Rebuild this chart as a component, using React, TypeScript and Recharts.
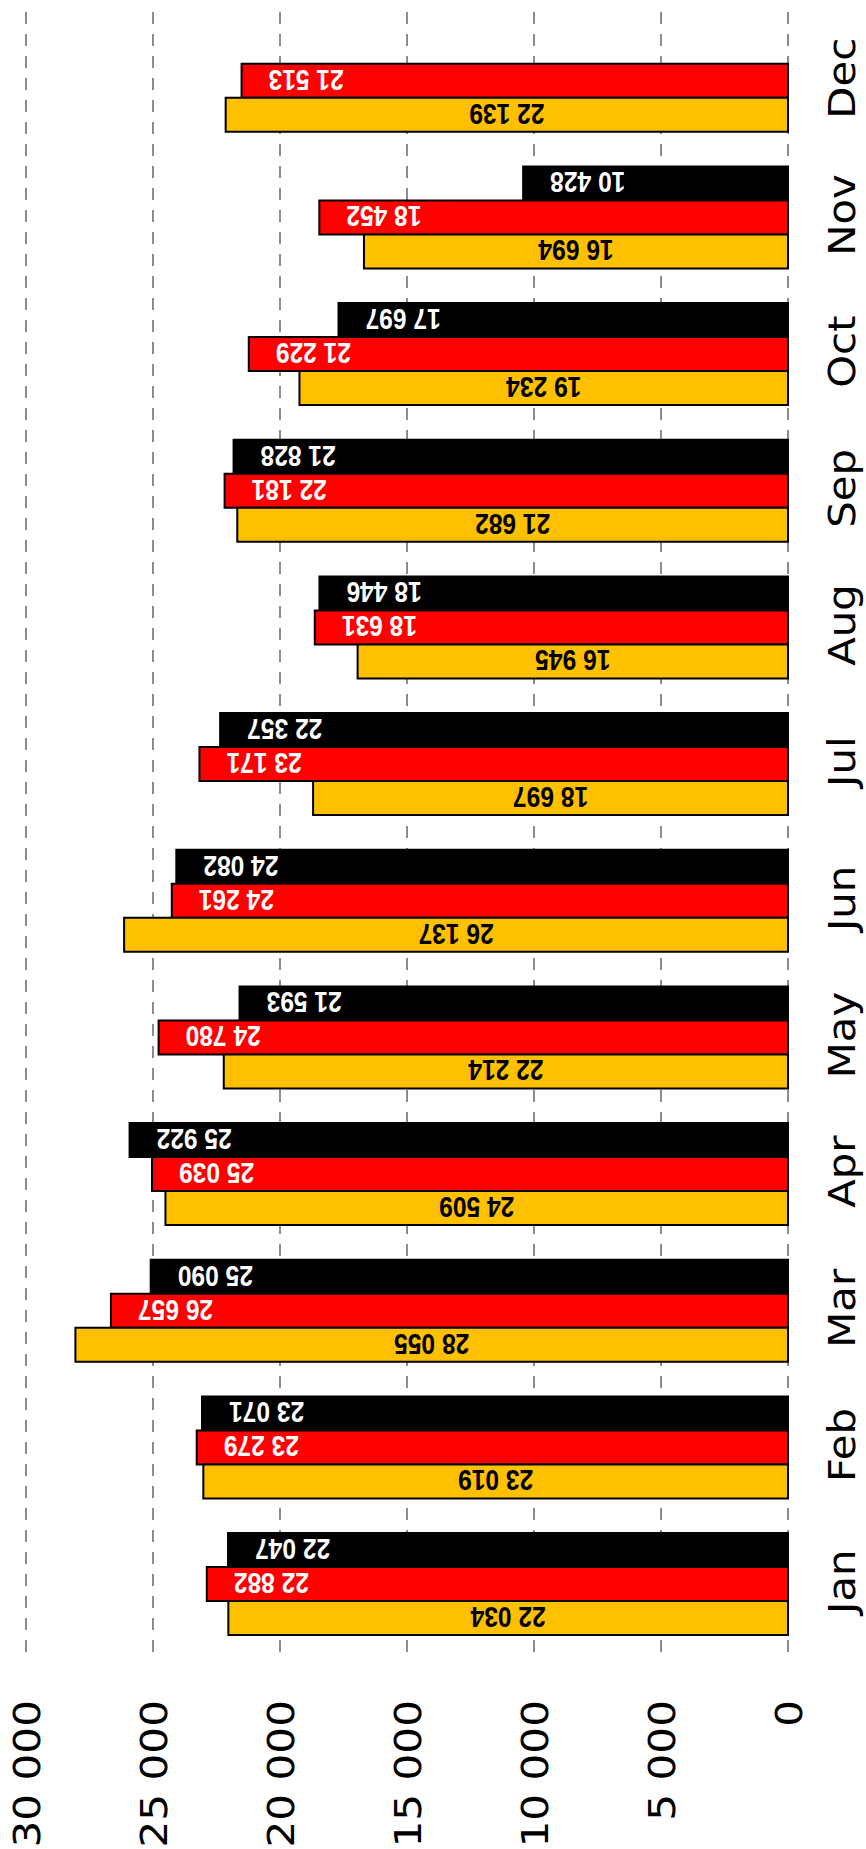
import { BarChart, Bar, XAxis, YAxis, CartesianGrid, LabelList } from 'recharts';

const MONTHS = ['Jan', 'Feb', 'Mar', 'Apr', 'May', 'Jun', 'Jul', 'Aug', 'Sep', 'Oct', 'Nov', 'Dec'];
const YELLOW_VALUES = [22034, 23019, 28055, 24509, 22214, 26137, 18697, 16945, 21682, 19234, 16694, 22139];
const RED_VALUES = [22882, 23279, 26657, 25039, 24780, 24261, 23171, 18631, 22181, 21229, 18452, 21513];
const BLACK_VALUES: (number | null)[] = [22047, 23071, 25090, 25922, 21593, 24082, 22357, 18446, 21828, 17697, 10428, null];
const VALUE_TICKS = [0, 5000, 10000, 15000, 20000, 25000, 30000];

const data = MONTHS.map((m, i) => ({
  month: m,
  black: BLACK_VALUES[i],
  red: RED_VALUES[i],
  yellow: YELLOW_VALUES[i],
}));

const fmt = (v: number) => String(v).replace(/\B(?=(\d{3})+(?!\d))/g, ' ');

function ValueTick({ x, y, payload }: any) {
  return (
    <text
      transform={`translate(${x + 13.5},${y + 48}) rotate(-90) scale(1.14,1)`}
      textAnchor="end"
      fontFamily="DejaVu Sans"
      fontSize={37}
      fill="#000"
    >
      {fmt(payload.value)}
    </text>
  );
}

function MonthTick({ x, y, payload }: any) {
  return (
    <text
      transform={`translate(${x + 67},${y - 2}) rotate(-90) scale(1.13,1)`}
      textAnchor="middle"
      fontFamily="DejaVu Sans"
      fontSize={37}
      fill="#000"
    >
      {payload.value}
    </text>
  );
}

// labels are drawn upside down, like the source
const barLabel = (mode: 'end' | 'center', color: string) => (props: any) => {
  const { value } = props;
  if (value == null) return null;
  const vb = props.viewBox ?? props;
  const x = Number(vb.x ?? props.x);
  const w = Number(vb.width ?? props.width);
  const y = Number(vb.y ?? props.y);
  const h = Number(vb.height ?? props.height);
  const left = Math.min(x, x + w);
  const right = Math.max(x, x + w);
  const cy = y + h / 2;
  const tx = mode === 'end' ? left + 27 : (left + right) / 2;
  return (
    <text
      transform={`translate(${tx},${cy - 11}) rotate(180) scale(0.82,1)`}
      textAnchor={mode === 'end' ? 'end' : 'middle'}
      fontFamily="Liberation Sans"
      fontWeight="bold"
      fontSize={30}
      fill={color}
    >
      {fmt(Number(value))}
    </text>
  );
};

export default function App() {
  return (
    <div style={{ position: 'absolute', left: 0, top: 0, width: 866, height: 1849, background: '#fff' }}>
      <BarChart
        width={866}
        height={1849}
        data={data}
        layout="vertical"
        margin={{ top: 12, right: 0, left: 26, bottom: 0 }}
        barCategoryGap="13%"
        barGap={0}
      >
        <CartesianGrid horizontal={false} stroke="#8c8c8c" strokeWidth={2} strokeDasharray="12 10" />
        <XAxis
          type="number"
          domain={[0, 30000]}
          ticks={VALUE_TICKS}
          reversed
          height={197}
          axisLine={false}
          tickLine={false}
          tickSize={0}
          tickMargin={0}
          interval={0}
          tick={<ValueTick />}
        />
        <YAxis
          type="category"
          dataKey="month"
          orientation="right"
          reversed
          width={78}
          axisLine={false}
          tickLine={false}
          tickSize={0}
          tickMargin={0}
          interval={0}
          tick={<MonthTick />}
        />
        <Bar dataKey="black" fill="#000000" stroke="#000" strokeWidth={2} isAnimationActive={false}>
          <LabelList dataKey="black" content={barLabel('end', '#fff')} />
        </Bar>
        <Bar dataKey="red" fill="#ff0000" stroke="#000" strokeWidth={2} isAnimationActive={false}>
          <LabelList dataKey="red" content={barLabel('end', '#fff')} />
        </Bar>
        <Bar dataKey="yellow" fill="#ffc000" stroke="#000" strokeWidth={2} isAnimationActive={false}>
          <LabelList dataKey="yellow" content={barLabel('center', '#000')} />
        </Bar>
      </BarChart>
    </div>
  );
}
